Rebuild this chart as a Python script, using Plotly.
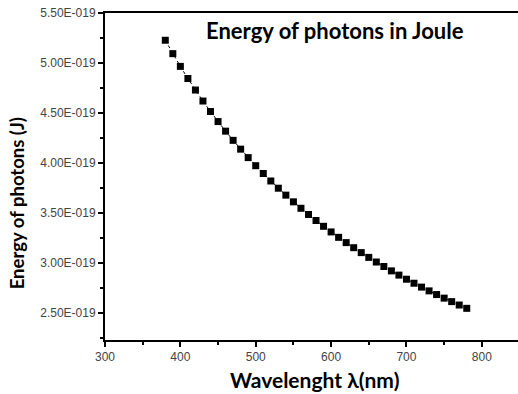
import plotly.graph_objects as go

wavelength_nm = [380, 390, 400, 410, 420, 430, 440, 450, 460, 470, 480, 490, 500,
                 510, 520, 530, 540, 550, 560, 570, 580, 590, 600, 610, 620, 630,
                 640, 650, 660, 670, 680, 690, 700, 710, 720, 730, 740, 750, 760,
                 770, 780]
energy_J = [5.2275e-19, 5.0935e-19, 4.9661e-19, 4.8450e-19, 4.7297e-19, 4.6197e-19,
            4.5147e-19, 4.4143e-19, 4.3184e-19, 4.2265e-19, 4.1384e-19, 4.0540e-19,
            3.9729e-19, 3.8950e-19, 3.8201e-19, 3.7480e-19, 3.6786e-19, 3.6117e-19,
            3.5472e-19, 3.4850e-19, 3.4249e-19, 3.3669e-19, 3.3108e-19, 3.2565e-19,
            3.2040e-19, 3.1531e-19, 3.1038e-19, 3.0561e-19, 3.0098e-19, 2.9649e-19,
            2.9213e-19, 2.8789e-19, 2.8378e-19, 2.7978e-19, 2.7590e-19, 2.7212e-19,
            2.6844e-19, 2.6486e-19, 2.6138e-19, 2.5798e-19, 2.5467e-19]

y_tickvals = [2.5e-19, 3.0e-19, 3.5e-19, 4.0e-19, 4.5e-19, 5.0e-19, 5.5e-19]
y_ticktext = ["2.50E-019", "3.00E-019", "3.50E-019", "4.00E-019", "4.50E-019",
              "5.00E-019", "5.50E-019"]
x_tickvals = [300, 400, 500, 600, 700, 800]
x_ticktext = ["300", "400", "500", "600", "700", "800"]

title_text = "Energy of photons in Joule"
x_title = "Wavelenght λ(nm)"
y_title = "Energy of photons (J)"

fig = go.Figure()
fig.add_trace(go.Scatter(
    x=wavelength_nm, y=energy_J, mode="lines+markers",
    line=dict(color="black", width=1, dash="dot"),
    marker=dict(symbol="square", size=7, color="black"),
    showlegend=False,
))

tick_font = dict(family="Liberation Sans, Arial", size=12, color="#444444")

fig.update_layout(
    width=518, height=394,
    margin=dict(l=105, r=0, t=13, b=54),
    paper_bgcolor="white", plot_bgcolor="white",
    xaxis=dict(
        range=[300, 848], tickvals=x_tickvals, ticktext=x_ticktext,
        showgrid=False, zeroline=False, showline=True, linecolor="black",
        linewidth=2, mirror=True, ticks="outside", ticklen=5, tickwidth=2,
        tickcolor="black", tickfont=tick_font,
        minor=dict(dtick=50, tick0=300, ticks="outside", ticklen=3, tickwidth=2,
                   tickcolor="black", showgrid=False),
    ),
    yaxis=dict(
        range=[2.23e-19, 5.5e-19], tickvals=y_tickvals, ticktext=y_ticktext,
        showgrid=False, zeroline=False, showline=True, linecolor="black",
        linewidth=2, ticks="outside", ticklen=5, tickwidth=2,
        tickcolor="black", tickfont=tick_font,
        minor=dict(dtick=0.25e-19, tick0=2.5e-19, ticks="outside", ticklen=3,
                   tickwidth=2, tickcolor="black", showgrid=False),
    ),
    annotations=[
        dict(text="<b>" + title_text + "</b>", xref="paper", yref="paper",
             x=0.557, y=0.948, showarrow=False, xanchor="center", yanchor="middle",
             font=dict(family="Lato, Open Sans", size=22, color="black")),
        dict(text="<b>" + x_title + "</b>", xref="paper", yref="paper",
             x=0.508, y=0, yshift=-39, showarrow=False, xanchor="center",
             yanchor="middle",
             font=dict(family="Lato, Open Sans", size=21, color="black")),
        dict(text="<b>" + y_title + "</b>", xref="paper", yref="paper",
             x=0, xshift=-88, y=0.418, showarrow=False, xanchor="center",
             yanchor="middle", textangle=-90,
             font=dict(family="Lato, Open Sans", size=18.5, color="black")),
    ],
)

fig.write_html("out.html")
